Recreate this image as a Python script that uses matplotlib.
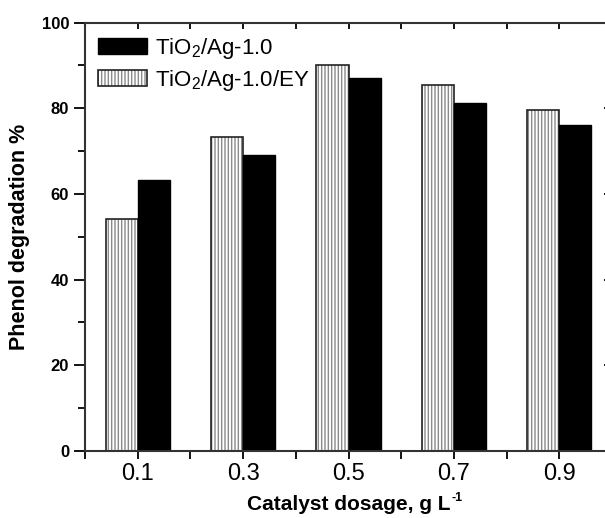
import matplotlib
matplotlib.use("Agg")
import matplotlib.pyplot as plt
import numpy as np
from matplotlib.ticker import MultipleLocator, FixedLocator

plt.rcParams['font.family'] = ['Liberation Sans', 'DejaVu Sans']
plt.rcParams['mathtext.fontset'] = 'custom'
plt.rcParams['mathtext.rm'] = 'Liberation Sans'
plt.rcParams['mathtext.it'] = 'Liberation Sans:italic'
plt.rcParams['mathtext.bf'] = 'Liberation Sans:bold'

# data
dosage = [0.1, 0.3, 0.5, 0.7, 0.9]
ag = [63.2, 69.1, 87.0, 81.3, 76.0]          # TiO2/Ag-1.0 (black)
ag_ey = [54.1, 73.2, 90.1, 85.3, 79.5]       # TiO2/Ag-1.0/EY (hatched)
xticks = [0.1, 0.3, 0.5, 0.7, 0.9]

w = 0.061
fig = plt.figure(figsize=(6.05, 5.18), dpi=100)
ax = fig.add_axes([85/605, 1-451/518, (612-85)/605, (451-22.5)/518])

x = np.array(dosage)
hb = ax.bar(x - w/2, ag_ey, w, color='white', edgecolor='#8a8a8a', hatch='|||||', linewidth=0)
ho = ax.bar(x - w/2, ag_ey, w, color='none', edgecolor='#222222', linewidth=1.2)
bk = ax.bar(x + w/2, ag, w, color='black', edgecolor='black', linewidth=1)

ax.set_xlim(0, 1.0)
ax.set_ylim(0, 100)
ax.xaxis.set_major_locator(FixedLocator(xticks))
ax.xaxis.set_minor_locator(MultipleLocator(0.1))
ax.yaxis.set_major_locator(MultipleLocator(20))
ax.yaxis.set_minor_locator(MultipleLocator(10))

for s in ax.spines.values():
    s.set_linewidth(1.5)
    s.set_color('#333333')

ax.tick_params(axis='x', which='both', direction='out', length=6, width=1.3,
               top=False, labelsize=17, pad=3)
ax.tick_params(axis='y', which='major', direction='out', length=8, width=1.3, labelsize=12)
ax.tick_params(axis='y', which='minor', direction='out', length=5, width=1.3)

# top and right ticks point inward
sec_x = ax.secondary_xaxis('top')
sec_x.xaxis.set_major_locator(MultipleLocator(0.1))
sec_x.tick_params(direction='in', length=5, width=1.3, labeltop=False)
sec_x.spines['top'].set_visible(False)
sec_y = ax.secondary_yaxis('right')
sec_y.yaxis.set_major_locator(MultipleLocator(20))
sec_y.yaxis.set_minor_locator(MultipleLocator(10))
sec_y.tick_params(which='major', direction='in', length=6, width=1.3, labelright=False)
sec_y.tick_params(which='minor', direction='in', length=4, width=1, color='#cccccc', labelright=False)
sec_y.spines['right'].set_visible(False)

ax.set_xticklabels(['0.1', '0.3', '0.5', '0.7', '0.9'])
ax.set_yticks([0, 20, 40, 60, 80, 100])
ax.set_yticklabels(['0', '20', '40', '60', '80', '100'], fontweight='bold')
ax.set_ylim(0, 100)
xl = ax.set_xlabel('Catalyst dosage, g L', fontsize=15, fontweight='bold', labelpad=7)
ax.set_ylabel('Phenol degradation %', fontsize=15.5, fontweight='bold', labelpad=8)

ax.legend([bk, (hb, ho)], [r'TiO$_2$/Ag-1.0', r'TiO$_2$/Ag-1.0/EY'],
          loc='upper left', bbox_to_anchor=(0.0, 1.0), frameon=False, fontsize=16,
          handlelength=2.2, handleheight=0.75, handletextpad=0.35, labelspacing=0.3,
          borderaxespad=0.2)

# small "-1" superscript after the x label
fig.canvas.draw()
bb = xl.get_window_extent()
fig.text((bb.x1 + 1) / fig.bbox.width, (bb.y1 - 9) / fig.bbox.height, '-1',
         fontsize=9, fontweight='bold', va='bottom', ha='left')

fig.savefig('out.png', dpi=100)
